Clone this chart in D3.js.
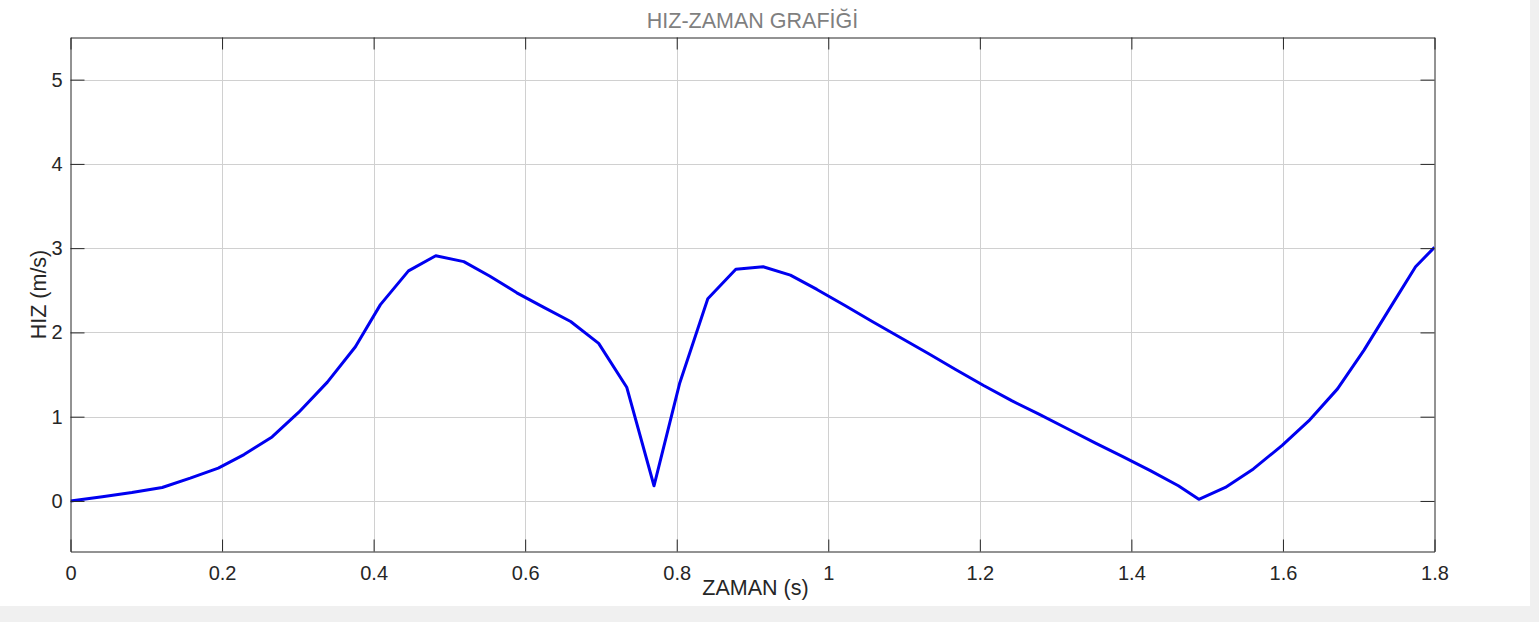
<!DOCTYPE html>
<html>
<head>
<meta charset="utf-8">
<script src="https://cdn.jsdelivr.net/npm/d3@7"></script>
<style>
  html, body { margin: 0; padding: 0; background: #f0f0f0; }
  svg { display: block; }
  text { font-family: "Liberation Sans", Arial, Helvetica, sans-serif; }
</style>
</head>
<body>
<script>
// time (s) and speed (m/s)
var zaman = [0, 0.042, 0.081, 0.121, 0.158, 0.195, 0.229, 0.266, 0.301, 0.339,
             0.376, 0.409, 0.446, 0.482, 0.519, 0.553, 0.589, 0.624, 0.660, 0.697,
             0.734, 0.770, 0.804, 0.841, 0.878, 0.914, 0.950, 0.985, 1.022, 1.058,
             1.095, 1.132, 1.168, 1.205, 1.242, 1.278, 1.315, 1.352, 1.388, 1.425,
             1.462, 1.489, 1.524, 1.561, 1.599, 1.634, 1.672, 1.707, 1.742, 1.775,
             1.800];
var hiz = [0, 0.05, 0.10, 0.16, 0.27, 0.39, 0.55, 0.76, 1.05, 1.41,
           1.83, 2.33, 2.73, 2.91, 2.84, 2.67, 2.47, 2.30, 2.13, 1.87,
           1.35, 0.18, 1.40, 2.40, 2.75, 2.78, 2.68, 2.51, 2.32, 2.13,
           1.94, 1.75, 1.56, 1.37, 1.19, 1.03, 0.86, 0.69, 0.53, 0.36,
           0.18, 0.02, 0.16, 0.38, 0.66, 0.95, 1.33, 1.79, 2.30, 2.78,
           3.01];
var xTicks = [0, 0.2, 0.4, 0.6, 0.8, 1, 1.2, 1.4, 1.6, 1.8];
var yTicks = [0, 1, 2, 3, 4, 5];
var xDomain = [0, 1.8];
var yDomain = [-0.6, 5.5];

var W = 1539, H = 622;
var pLeft = 70.5, pRight = 1434.5, pTop = 37.5, pBottom = 551.5;

var svg = d3.select("body").append("svg")
    .attr("width", W)
    .attr("height", H);

// white figure area, gray window strip at right and bottom
svg.append("rect")
    .attr("x", 0).attr("y", 0)
    .attr("width", 1530).attr("height", 606)
    .attr("fill", "white");

var x = d3.scaleLinear().domain(xDomain).range([pLeft, pRight]);
var y = d3.scaleLinear().domain(yDomain).range([pBottom, pTop]);

var fmt = function(d) { return d3.format("~g")(d); };

// grid
var grid = svg.append("g").attr("stroke", "#d0d0d0").attr("stroke-width", 1);
grid.selectAll(".gx").data(xTicks.slice(1, -1)).enter().append("line")
    .attr("x1", function(d) { return Math.round(x(d)) + 0.5; })
    .attr("x2", function(d) { return Math.round(x(d)) + 0.5; })
    .attr("y1", pTop).attr("y2", pBottom);
grid.selectAll(".gy").data(yTicks).enter().append("line")
    .attr("y1", function(d) { return Math.round(y(d)) + 0.5; })
    .attr("y2", function(d) { return Math.round(y(d)) + 0.5; })
    .attr("x1", pLeft).attr("x2", pRight);

// the line, clipped to the axes box
svg.append("clipPath").attr("id", "clip")
  .append("rect")
    .attr("x", pLeft).attr("y", pTop)
    .attr("width", pRight - pLeft).attr("height", pBottom - pTop);

var pts = zaman.map(function(t, i) { return [t, hiz[i]]; });
var line = d3.line()
    .x(function(d) { return x(d[0]); })
    .y(function(d) { return y(d[1]); });

svg.append("path")
    .datum(pts)
    .attr("clip-path", "url(#clip)")
    .attr("fill", "none")
    .attr("stroke", "#0000f0")
    .attr("stroke-width", 3)
    .attr("stroke-linejoin", "round")
    .attr("d", line);

// axes (box with inward ticks on all four sides)
var axCol = "#262626";
var xb = svg.append("g").attr("transform", "translate(0," + pBottom + ")")
    .call(d3.axisBottom(x).tickValues(xTicks).tickSize(-12).tickSizeOuter(0).tickPadding(14).tickFormat(fmt));
var xt = svg.append("g").attr("transform", "translate(0," + pTop + ")")
    .call(d3.axisTop(x).tickValues(xTicks).tickSize(-12).tickSizeOuter(0).tickFormat(""));
var yl = svg.append("g").attr("transform", "translate(" + pLeft + ",0)")
    .call(d3.axisLeft(y).tickValues(yTicks).tickSize(-14).tickSizeOuter(0).tickPadding(8).tickFormat(fmt));
var yr = svg.append("g").attr("transform", "translate(" + pRight + ",0)")
    .call(d3.axisRight(y).tickValues(yTicks).tickSize(-14).tickSizeOuter(0).tickFormat(""));

[xb, xt, yl, yr].forEach(function(g) {
    g.attr("font-size", null);
    g.select(".domain").attr("stroke", axCol).attr("stroke-width", 1);
    g.selectAll(".tick line").attr("stroke", axCol).attr("stroke-width", 1);
    g.selectAll(".tick text")
        .attr("fill", axCol)
        .style("font-size", "20px")
        .style("font-family", "'Liberation Sans', Arial, Helvetica, sans-serif");
});

// title and labels
svg.append("text")
    .attr("x", (pLeft + pRight) / 2).attr("y", 28)
    .attr("text-anchor", "middle")
    .attr("fill", "#7f7f7f")
    .style("font-size", "21.5px")
    .text("HIZ-ZAMAN GRAFİĞİ");

svg.append("text")
    .attr("x", (pLeft + pRight) / 2 + 3).attr("y", 595)
    .attr("text-anchor", "middle")
    .attr("fill", axCol)
    .style("font-size", "21.5px")
    .text("ZAMAN (s)");

svg.append("text")
    .attr("transform", "translate(46," + ((pTop + pBottom) / 2) + ") rotate(-90)")
    .attr("text-anchor", "middle")
    .attr("fill", axCol)
    .style("font-size", "21.5px")
    .text("HIZ (m/s)");
</script>
</body>
</html>
